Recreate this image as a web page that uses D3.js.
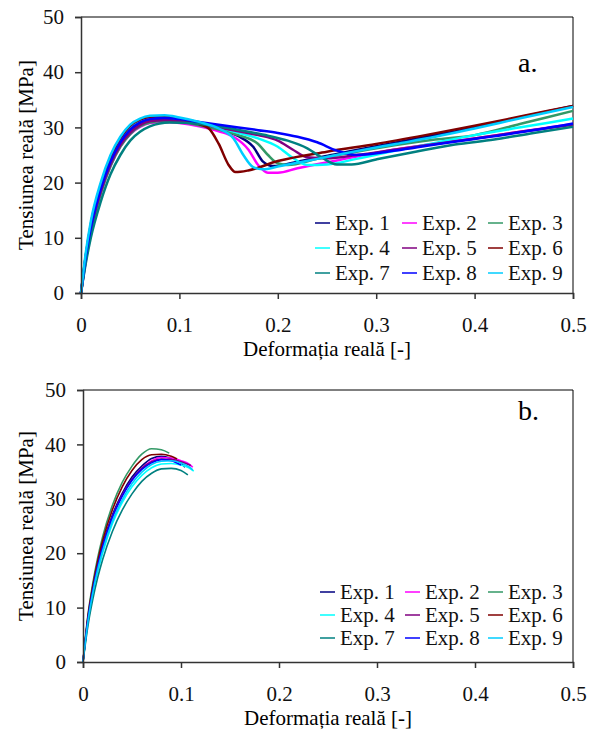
<!DOCTYPE html>
<html>
<head>
<meta charset="utf-8">
<script src="https://cdn.jsdelivr.net/npm/d3@7"></script>
<style>
	body { margin: 0; background: #fff; }
	svg { display: block; font-family: "Liberation Serif", "Times New Roman", serif; }
</style>
</head>
<body>
<div id="chart"></div>
<script>
// Legend / series labels and colours
var names = ["Exp. 1", "Exp. 2", "Exp. 3", "Exp. 4", "Exp. 5", "Exp. 6", "Exp. 7", "Exp. 8", "Exp. 9"];
var colors = ["#000080", "#ff00ff", "#339966", "#00ffff", "#800080", "#800000", "#008080", "#0000ff", "#00ccff"];
var xTicks = [0, 0.1, 0.2, 0.3, 0.4, 0.5];
var yTicks = [0, 10, 20, 30, 40, 50];

// Chart a: [strain, stress] per experiment
var a1 = [[0,0],[0.005,6.5],[0.01,11.5],[0.02,18.5],[0.03,23.5],[0.04,27],[0.05,29.3],[0.06,30.6],[0.07,31.3],[0.085,31.5],[0.1,31.2],[0.12,30.5],[0.14,29.6],[0.16,28.4],[0.175,26.5],[0.185,23.8],[0.195,23.0],[0.22,23.8],[0.26,25.2],[0.3,26.6],[0.35,28.3],[0.4,30.0],[0.45,32.0],[0.5,33.9]];
var a2 = [[0,0],[0.005,6],[0.01,11],[0.02,18],[0.03,23],[0.04,26.5],[0.05,28.8],[0.06,30.1],[0.07,30.8],[0.085,31],[0.1,30.8],[0.12,30.2],[0.14,29.3],[0.155,28.3],[0.17,26],[0.18,23.2],[0.19,21.8],[0.2,21.8],[0.22,22.6],[0.26,24.0],[0.3,25.4],[0.35,26.8],[0.4,28.0],[0.45,29.3],[0.5,30.6]];
var a3 = [[0,0],[0.005,6],[0.01,11],[0.02,18],[0.03,23],[0.04,26.5],[0.05,28.8],[0.06,30.2],[0.07,30.9],[0.085,31.2],[0.1,31],[0.12,30.4],[0.14,29.6],[0.16,28.6],[0.18,27],[0.19,25],[0.2,23.5],[0.21,23.2],[0.24,24.3],[0.28,25.6],[0.32,26.8],[0.36,27.8],[0.4,28.6],[0.45,30.8],[0.5,33.0]];
var a4 = [[0,0],[0.005,7],[0.01,12],[0.02,19],[0.03,24],[0.04,27.5],[0.05,29.8],[0.06,31],[0.07,31.6],[0.085,31.8],[0.1,31.5],[0.12,30.8],[0.14,30],[0.16,29],[0.18,28],[0.2,26.5],[0.215,24.5],[0.23,23.2],[0.25,23.3],[0.28,24.3],[0.32,25.8],[0.36,27.2],[0.4,28.6],[0.45,30.1],[0.5,31.6]];
var a5 = [[0,0],[0.005,6.3],[0.01,11.3],[0.02,18.3],[0.03,23.3],[0.04,26.8],[0.05,29],[0.06,30.4],[0.07,31.1],[0.085,31.3],[0.1,31.1],[0.12,30.6],[0.14,30],[0.16,29.3],[0.18,28.6],[0.2,27.6],[0.215,26],[0.23,24.6],[0.25,24.4],[0.28,25.0],[0.32,26.0],[0.36,27],[0.4,28],[0.45,29.3],[0.5,30.5]];
var a6 = [[0,0],[0.005,7],[0.01,12.5],[0.02,19.5],[0.03,24.5],[0.04,28],[0.05,30.3],[0.06,31.4],[0.07,31.9],[0.085,32],[0.1,31.6],[0.12,30.6],[0.13,29.8],[0.14,27],[0.15,23.2],[0.157,21.9],[0.17,22.2],[0.2,23.9],[0.25,25.6],[0.3,27.0],[0.35,28.6],[0.4,30.3],[0.45,32.1],[0.5,33.9]];
var a7 = [[0,0],[0.005,5.5],[0.01,10],[0.02,16.5],[0.03,21.5],[0.04,25],[0.05,27.6],[0.06,29.2],[0.07,30.2],[0.09,30.9],[0.11,30.8],[0.13,30.4],[0.15,29.9],[0.17,29.2],[0.19,28.5],[0.21,27.6],[0.23,26.2],[0.245,24.5],[0.26,23.3],[0.275,23.3],[0.3,24.2],[0.34,25.6],[0.38,26.9],[0.42,27.8],[0.46,29],[0.5,30.1]];
var a8 = [[0,0],[0.005,6.8],[0.01,11.8],[0.02,18.8],[0.03,23.8],[0.04,27.3],[0.05,29.6],[0.06,30.9],[0.07,31.5],[0.085,31.7],[0.1,31.5],[0.12,31],[0.14,30.5],[0.16,30],[0.18,29.5],[0.2,29],[0.22,28.3],[0.24,27.3],[0.26,25.8],[0.28,25.0],[0.32,25.8],[0.36,26.9],[0.4,27.9],[0.45,29.2],[0.5,30.7]];
var a9 = [[0,0],[0.005,7.5],[0.01,13],[0.02,20],[0.03,25],[0.04,28.3],[0.05,30.5],[0.06,31.6],[0.07,32.1],[0.085,32.2],[0.1,31.8],[0.12,31],[0.14,29.8],[0.155,28],[0.165,25],[0.175,22.8],[0.185,22.4],[0.2,22.9],[0.24,24.3],[0.28,25.7],[0.32,27],[0.36,28.3],[0.4,29.8],[0.45,31.8],[0.5,33.7]];

// Chart b: [strain, stress] per experiment
var b1 = [[0,0],[0.005,8],[0.01,13.5],[0.015,18],[0.02,21.5],[0.03,27],[0.04,31],[0.05,34],[0.06,36],[0.07,37.4],[0.08,37.8],[0.09,37.4],[0.1,36.6],[0.104,35.8]];
var b2 = [[0,0],[0.005,7.8],[0.01,13.2],[0.015,17.6],[0.02,21],[0.03,26.5],[0.04,30.5],[0.05,33.5],[0.06,35.6],[0.07,37],[0.08,37.6],[0.09,37.5],[0.1,37],[0.108,36.4],[0.112,35.8]];
var b3 = [[0,0],[0.005,8.6],[0.01,14.5],[0.015,19.2],[0.02,23],[0.03,28.8],[0.04,33],[0.05,36],[0.06,38.2],[0.07,39.2],[0.08,39],[0.088,38.4]];
var b4 = [[0,0],[0.005,7.2],[0.01,12.4],[0.015,16.6],[0.02,20],[0.03,25.4],[0.04,29.3],[0.05,32.2],[0.06,34.3],[0.07,35.7],[0.08,36.4],[0.09,36.5],[0.1,36.2],[0.108,35.7],[0.113,35.1]];
var b5 = [[0,0],[0.005,7.8],[0.01,13.3],[0.015,17.7],[0.02,21.2],[0.03,26.7],[0.04,30.7],[0.05,33.6],[0.06,35.6],[0.07,36.8],[0.08,37.3],[0.09,37.2],[0.1,36.8],[0.11,36.1]];
var b6 = [[0,0],[0.005,8.3],[0.01,14],[0.015,18.6],[0.02,22.3],[0.03,28],[0.04,32.2],[0.05,35.2],[0.06,37.2],[0.07,38.1],[0.08,38.2],[0.09,37.8],[0.096,37.3]];
var b7 = [[0,0],[0.005,6.6],[0.01,11.5],[0.015,15.5],[0.02,18.8],[0.03,24],[0.04,27.9],[0.05,30.9],[0.06,33.2],[0.07,34.7],[0.08,35.5],[0.09,35.6],[0.1,35.2],[0.107,34.4]];
var b8 = [[0,0],[0.005,7.9],[0.01,13.3],[0.015,17.7],[0.02,21.2],[0.03,26.6],[0.04,30.5],[0.05,33.4],[0.06,35.4],[0.07,36.6],[0.08,37.2],[0.09,37],[0.1,36.2]];
var b9 = [[0,0],[0.005,7.4],[0.01,12.7],[0.015,17],[0.02,20.4],[0.03,25.9],[0.04,29.8],[0.05,32.8],[0.06,34.9],[0.07,36.3],[0.08,36.9],[0.09,37],[0.1,36.6],[0.108,35.9],[0.112,35.3]];

var seriesA = [a1, a2, a3, a4, a5, a6, a7, a8, a9];
var seriesB = [b1, b2, b3, b4, b5, b6, b7, b8, b9];

var serif = "'Liberation Serif', 'Times New Roman', serif";
var svg = d3.select("#chart").append("svg").attr("width", 597).attr("height", 731);

function drawPanel(series, opts) {
	var g = svg.append("g");
	var x = d3.scaleLinear().domain([0, 0.5]).range([opts.left, opts.right]);
	var y = d3.scaleLinear().domain([0, 50]).range([opts.bottom, opts.top]);

	// frame (top and right)
	g.append("line").attr("x1", opts.left).attr("x2", opts.right).attr("y1", opts.top).attr("y2", opts.top)
		.attr("stroke", "#000").attr("stroke-width", 1);
	g.append("line").attr("x1", opts.right).attr("x2", opts.right).attr("y1", opts.top).attr("y2", opts.bottom)
		.attr("stroke", "#000").attr("stroke-width", 1);

	// curves
	var line = d3.line()
		.x(function (d) { return x(d[0]); })
		.y(function (d) { return y(d[1]); })
		.curve(d3.curveMonotoneX);
	g.selectAll("path.curve")
		.data(series)
		.enter()
		.append("path")
		.attr("class", "curve")
		.attr("fill", "none")
		.attr("stroke", function (d, i) { return colors[i]; })
		.attr("stroke-width", opts.lw)
		.attr("d", line);

	// axes
	var xAxis = g.append("g")
		.attr("transform", `translate(0, ${opts.bottom})`)
		.call(d3.axisBottom(x).tickValues(xTicks).tickSize(6).tickPadding(18)
			.tickFormat(function (d) { return d === 0 ? "0" : d3.format(".1f")(d); }));
	var yAxis = g.append("g")
		.attr("transform", `translate(${opts.left}, 0)`)
		.call(d3.axisLeft(y).tickValues(yTicks).tickSize(6).tickPadding(11));
	[xAxis, yAxis].forEach(function (ax) {
		ax.attr("font-family", serif).attr("font-size", 21);
		ax.select(".domain").attr("stroke", "#333").attr("stroke-width", 1.5);
		ax.selectAll(".tick line").attr("stroke", "#333").attr("stroke-width", 1.5);
		ax.selectAll(".tick text").attr("fill", "#111");
	});

	// axis titles
	g.append("text")
		.attr("x", (opts.left + opts.right) / 2)
		.attr("y", opts.bottom + 63)
		.attr("text-anchor", "middle")
		.attr("font-family", serif)
		.attr("font-size", 21)
		.text("Deformația reală [-]");
	g.append("text")
		.attr("transform", `translate(33, ${(opts.top + opts.bottom) / 2}) rotate(-90)`)
		.attr("text-anchor", "middle")
		.attr("font-family", serif)
		.attr("font-size", 21)
		.text("Tensiunea reală [MPa]");

	// panel letter
	g.append("text")
		.attr("x", 518)
		.attr("y", opts.letterY)
		.attr("font-family", serif)
		.attr("font-size", 28)
		.text(opts.letter);

	// legend
	var leg = g.append("g");
	names.forEach(function (n, i) {
		var col = i % 3, row = Math.floor(i / 3);
		var lx = opts.legCols[col], ly = opts.legTop + row * opts.legStep;
		leg.append("line").attr("x1", lx).attr("x2", lx + 15).attr("y1", ly).attr("y2", ly)
			.attr("stroke", colors[i]).attr("stroke-width", 1.5);
		leg.append("text").attr("x", lx + 20).attr("y", ly + 7)
			.attr("font-family", serif).attr("font-size", 21).attr("fill", "#111").text(n);
	});
}

drawPanel(seriesA, {
	left: 81, right: 573, top: 17, bottom: 293, lw: 2.5,
	letter: "a.", letterY: 72,
	legCols: [315, 402, 488], legTop: 223, legStep: 25
});
drawPanel(seriesB, {
	left: 83, right: 573, top: 390, bottom: 662, lw: 1.6,
	letter: "b.", letterY: 420,
	legCols: [320, 405, 488], legTop: 592, legStep: 23
});
</script>
</body>
</html>
